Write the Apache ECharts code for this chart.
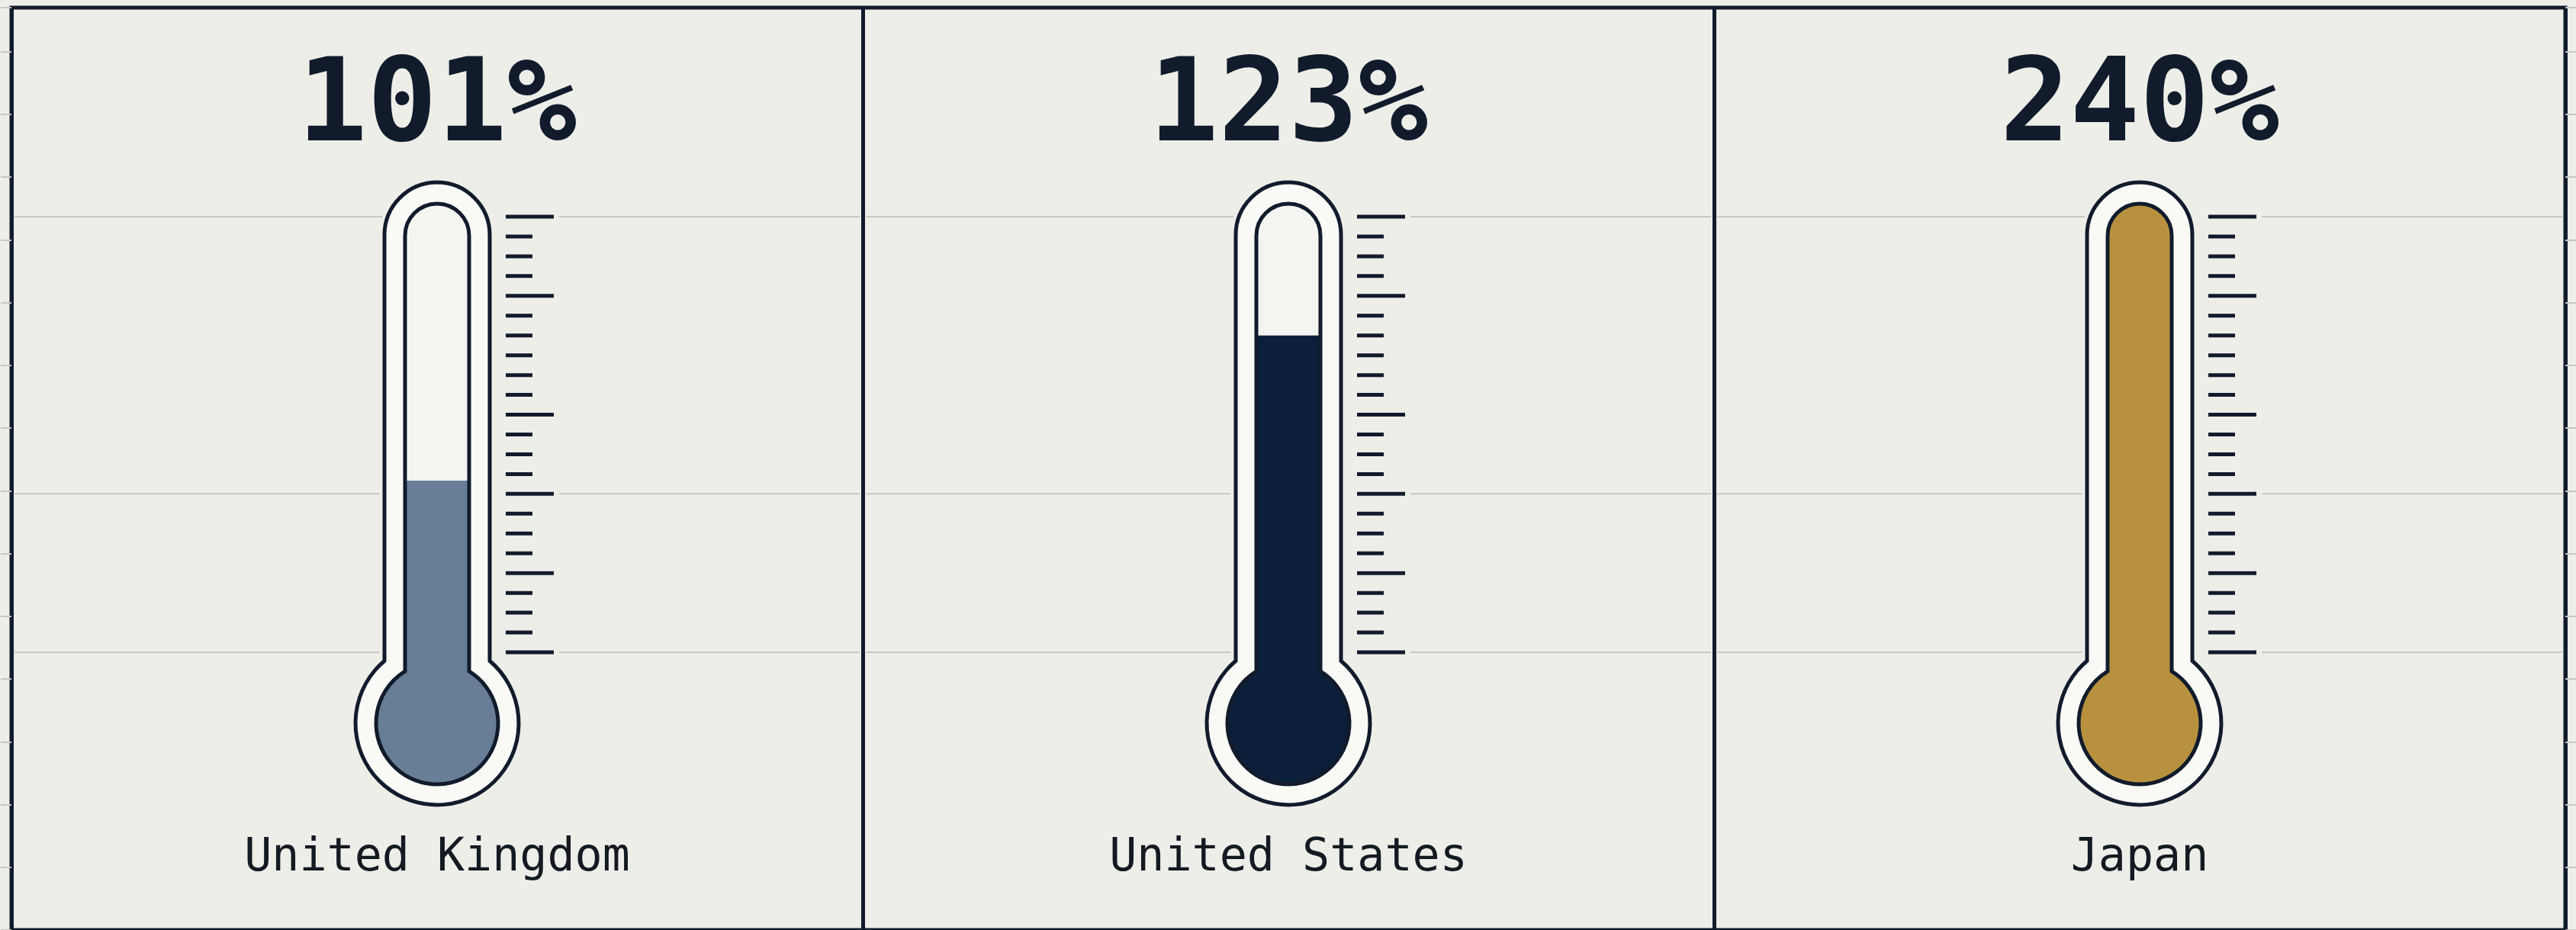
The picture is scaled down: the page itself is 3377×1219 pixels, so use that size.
<!DOCTYPE html>
<html>
<head>
<meta charset="utf-8">
<script src="https://cdn.jsdelivr.net/npm/echarts@6/dist/echarts.min.js"></script>
<style>
  html, body { margin: 0; padding: 0; background: #EEEEE9; }
  #c { width: 3377px; height: 1219px; }
</style>
</head>
<body>
<div id="c"></div>
<script>
// ---- data ----
const countries = ['United Kingdom', 'United States', 'Japan'];
const values = [101, 123, 240];
const fillColors = ['#687E96', '#0C1F3A', '#B8913F'];
const scaleMin = 75;
const scaleMax = 141;
const scaleStep = 3;
const majorTicks = [141, 129, 111, 99, 87, 75];
const refLines = [141, 99, 75];

// ---- style ----
const NAVY = '#111B2B';
const BG = '#EEEEE9';
const GLASS = '#F9F9F6';
const TUBE = '#F4F4F1';
const GRIDC = '#C8C8C2';
const TEXT = '#141A22';

function renderThermo(params, api) {
  const idx = api.value(0);
  const v = api.value(1);
  const pB = api.coord([idx, scaleMin]);
  const pT = api.coord([idx, scaleMax]);
  const cx = pB[0], yB = pB[1], yT = pT[1];
  const bandW = api.size([1, 0])[0];
  const color = api.visual('color');
  const children = [];

  refLines.forEach(function (rv) {
    const y = api.coord([idx, rv])[1];
    children.push({
      type: 'line',
      shape: { x1: cx - bandW / 2 + 4, y1: y, x2: cx + bandW / 2 - 4, y2: y },
      style: { stroke: GRIDC, lineWidth: 2 }
    });
  });

  const a = 69, aTop = yT + 24, R = 107, cy = yB + 93;
  const b = 42, bTop = yT + 25, r = 80;
  const yJo = cy - Math.sqrt(R * R - a * a);
  const yJi = cy - Math.sqrt(r * r - b * b);
  const outer = 'M' + (cx - a) + ' ' + yJo + ' L' + (cx - a) + ' ' + aTop +
    ' A' + a + ' ' + a + ' 0 0 1 ' + (cx + a) + ' ' + aTop +
    ' L' + (cx + a) + ' ' + yJo +
    ' A' + R + ' ' + R + ' 0 1 1 ' + (cx - a) + ' ' + yJo + ' Z';
  const inner = 'M' + (cx - b) + ' ' + yJi + ' L' + (cx - b) + ' ' + bTop +
    ' A' + b + ' ' + b + ' 0 0 1 ' + (cx + b) + ' ' + bTop +
    ' L' + (cx + b) + ' ' + yJi +
    ' A' + r + ' ' + r + ' 0 1 1 ' + (cx - b) + ' ' + yJi + ' Z';

  // halo behind ticks
  children.push({ type: 'rect', shape: { x: cx + 62, y: yT - 8, width: 98, height: yB - yT + 16 }, style: { fill: BG } });
  children.push({ type: 'path', shape: { pathData: outer }, style: { fill: 'none', stroke: BG, lineWidth: 13 } });
  children.push({ type: 'path', shape: { pathData: outer }, style: { fill: GLASS, stroke: NAVY, lineWidth: 5 } });
  children.push({ type: 'path', shape: { pathData: inner }, style: { fill: TUBE } });

  let liquid;
  if (v >= scaleMax) {
    liquid = inner;
  } else {
    const yV = api.coord([idx, v])[1];
    liquid = 'M' + (cx - b) + ' ' + yV + ' L' + (cx + b) + ' ' + yV +
      ' L' + (cx + b) + ' ' + yJi +
      ' A' + r + ' ' + r + ' 0 1 1 ' + (cx - b) + ' ' + yJi + ' Z';
  }
  children.push({ type: 'path', shape: { pathData: liquid }, style: { fill: color } });
  children.push({ type: 'path', shape: { pathData: inner }, style: { fill: 'none', stroke: NAVY, lineWidth: 5 } });

  for (let t = scaleMin; t <= scaleMax; t += scaleStep) {
    const y = api.coord([idx, t])[1];
    const major = majorTicks.indexOf(t) >= 0;
    children.push({
      type: 'line',
      shape: { x1: cx + 90, y1: y, x2: cx + (major ? 153 : 125), y2: y },
      style: { stroke: NAVY, lineWidth: 5 }
    });
  }

  children.push({
    type: 'text', x: cx, y: yT - 139,
    style: { text: v + '%', fontFamily: 'DejaVu Sans Mono', fontWeight: 'bold', fontSize: 152,
      fill: NAVY, align: 'center', verticalAlign: 'middle' }
  });
  children.push({
    type: 'text', x: cx, y: yB + 270,
    style: { text: countries[idx], fontFamily: 'DejaVu Sans Mono', fontSize: 60,
      fill: TEXT, align: 'center', verticalAlign: 'middle' }
  });
  return { type: 'group', children: children };
}

const chart = echarts.init(document.getElementById('c'), null, { renderer: 'canvas' });
chart.setOption({
  animation: false,
  backgroundColor: BG,
  grid: [
    { left: 15, right: 14, top: 10, bottom: -5, show: true, backgroundColor: BG,
      borderColor: NAVY, borderWidth: 5 },
    { left: 15, right: 14, top: 284, bottom: 364 }
  ],
  xAxis: [
    { type: 'category', gridIndex: 0, data: countries, boundaryGap: true,
      axisLine: { show: false }, axisTick: { show: false }, axisLabel: { show: false },
      splitLine: { show: true, interval: 0, lineStyle: { color: NAVY, width: 5 } } },
    { type: 'category', gridIndex: 1, data: countries, show: false }
  ],
  yAxis: [
    { type: 'value', gridIndex: 0, position: 'left', min: 0, max: 14.7, interval: 1,
      axisLine: { show: false }, axisLabel: { show: false }, splitLine: { show: false },
      axisTick: { show: true, length: 14, lineStyle: { color: GRIDC, width: 2 } } },
    { type: 'value', gridIndex: 0, position: 'right', min: 0, max: 14.7, interval: 1,
      axisLine: { show: false }, axisLabel: { show: false }, splitLine: { show: false },
      axisTick: { show: true, length: 14, lineStyle: { color: GRIDC, width: 2 } } },
    { type: 'value', gridIndex: 1, min: scaleMin, max: scaleMax, interval: scaleStep, show: false }
  ],
  series: [{
    type: 'custom',
    xAxisIndex: 1,
    yAxisIndex: 2,
    renderItem: renderThermo,
    data: countries.map(function (c, i) {
      return { value: [i, values[i]], itemStyle: { color: fillColors[i] } };
    })
  }]
});
</script>
</body>
</html>
